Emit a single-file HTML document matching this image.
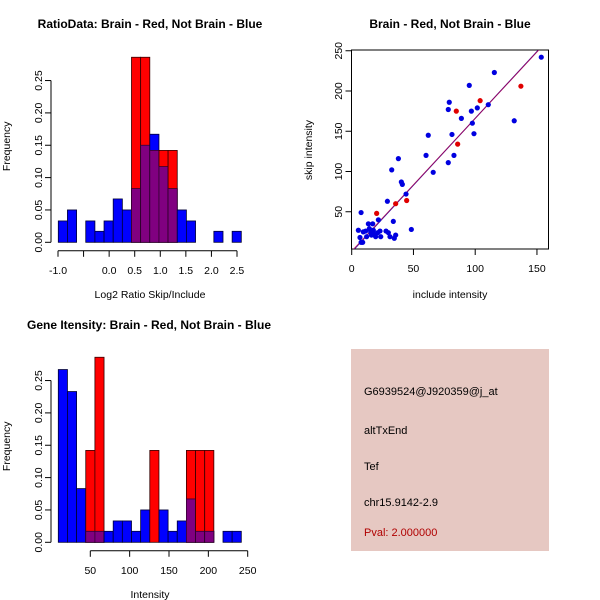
<!DOCTYPE html>
<html><head><meta charset="utf-8"><style>
body{margin:0;background:#fff;}
svg{display:block;font-family:"Liberation Sans",sans-serif;}
</style></head><body>
<svg id="s" width="600" height="600" viewBox="0 0 600 600">
<rect width="600" height="600" fill="#fff"/>
<g>
<rect x="351" y="349" width="198" height="202" fill="#e6c8c2"/>
<text x="364" y="395" font-size="11">G6939524@J920359@j_at</text>
<text x="364" y="434" font-size="11">altTxEnd</text>
<text x="364" y="470" font-size="11">Tef</text>
<text x="364" y="506" font-size="11">chr15.9142-2.9</text>
<text x="364" y="536" font-size="11" fill="#b00000">Pval: 2.000000</text>
</g>
</svg>
<script>
// Histogram 1: ratio
const ratioBlue=[0.033,0.05,0,0.033,0.017,0.033,0.067,0.05,0.083,0.15,0.167,0.117,0.083,0.05,0.033,0,0,0.017,0,0.017];
const ratioRed=[0,0,0,0,0,0,0,0,0.286,0.286,0.142,0.142,0.142,0,0,0,0,0,0,0];
const ratioTicks=[-1.0,-0.5,0.0,0.5,1.0,1.5,2.0,2.5];
const ratioTickLabels=["-1.0","","0.0","0.5","1.0","1.5","2.0","2.5"];
// Histogram 2: intensity
const intBlue=[0.267,0.233,0.083,0.017,0.017,0.017,0.033,0.033,0.017,0.05,0,0.05,0.017,0.033,0.067,0.017,0.017,0,0.017,0.017];
const intRed=[0,0,0,0.142,0.286,0,0,0,0,0,0.142,0,0,0,0.142,0.142,0.142,0,0,0];
const intTicks=[50,100,150,200,250];
const freqTicks=[0,0.05,0.10,0.15,0.20,0.25];
const freqTickLabels=["0.00","0.05","0.10","0.15","0.20","0.25"];
// Scatter
const blueX=[7.6,5.4,6.7,7.6,8.9,9.4,11.3,12.1,13.5,14.3,15.4,17,18,19.4,21,21.6,22.9,23.5,17.5,16,27.8,28.9,29.7,31,32.4,33.7,34.5,35.6,37.8,40.2,41,44,48.3,60.2,62,66,78.2,79,78.2,81.2,82.8,88.8,95.2,96.9,97.7,99,101.7,110.6,115.5,131.6,153.5];
const blueY=[49,27,18,12,12,25,26,19,35,29,25,35,22,19,24,40,26,19,27,21,26,63,24,19,102,38,17,21,116,87,84,72,28,120,145,99,177,186,111,146,120,166,207,175,160,147,179,183,223,163,242];
const redX=[20.2,35.6,44.5,84.7,85.8,104,137];
const redY=[48,60,64,175,134,188,206];
const fitBlue=[0,1.66];   // intercept, slope
const fitRed=[1,1.65];
const scXTicks=[0,50,100,150];
const scYTicks=[50,100,150,200,250];

const S=document.getElementById('s');
const NS='http://www.w3.org/2000/svg';
function mk(tag,attrs,parent){const e=document.createElementNS(NS,tag);for(const k in attrs)e.setAttribute(k,attrs[k]);(parent||S).appendChild(e);return e;}
function txt(x,y,s,opt,parent){const e=mk('text',Object.assign({x:x,y:y,'font-size':10.5,'text-anchor':'middle'},opt||{}),parent);e.textContent=s;return e;}

function hist(g,blue,red,y0,ticks,tickLabels,tx){
  const left=58.3,right=241.3,n=blue.length,bw=(right-left)/n;
  const base=y0, ys=v=>base-v*647;
  for(let i=0;i<n;i++){
    const x=left+i*bw;
    if(blue[i]>0){const r=mk('rect',{x:x,y:ys(blue[i]),width:bw,height:base-ys(blue[i]),fill:'#0000ff',stroke:'#000033','stroke-width':0.8},g);
      }
    if(red[i]>0){const r=mk('rect',{x:x,y:ys(red[i]),width:bw,height:base-ys(red[i]),fill:'#ff0000',stroke:'#330000','stroke-width':0.8},g);
      }
    const m=Math.min(blue[i],red[i]);
    if(m>0){const r=mk('rect',{x:x,y:ys(m),width:bw,height:base-ys(m),fill:'#800080',stroke:'#330033','stroke-width':0.8},g);
      }
  }
  const ya=mk('g',{},g);
  mk('line',{x1:51,x2:51,y1:ys(0),y2:ys(0.25),stroke:'#000'},ya);
  freqTicks.forEach((v,i)=>{mk('line',{x1:45,x2:51,y1:ys(v),y2:ys(v),stroke:'#000'},ya);
    txt(38,ys(v)+4,freqTickLabels[i],{transform:`rotate(-90 38 ${ys(v)})`},ya);});
  const xa=mk('g',{},g);
  const ay=base+8.5;
  mk('line',{x1:tx(ticks[0]),x2:tx(ticks[ticks.length-1]),y1:ay,y2:ay,stroke:'#000'},xa);
  ticks.forEach((v,i)=>{mk('line',{x1:tx(v),x2:tx(v),y1:ay,y2:ay+6,stroke:'#000'},xa);
    if(tickLabels[i])txt(tx(v),ay+23,tickLabels[i],{},xa);});
  const fl=txt(10,base-96,'Frequency',{transform:`rotate(-90 10 ${base-96})`},g);
  
}

// Panel 1
const g1=mk('g',{});
let t=txt(150,28,'RatioData: Brain - Red, Not Brain - Blue',{'font-weight':'bold','font-size':12},g1);

hist(g1,ratioBlue,ratioRed,242.3,ratioTicks,ratioTickLabels,v=>58+(v+1)*51.14);
t=txt(150,298,'Log2 Ratio Skip/Include',{},g1);

// Panel 3
const g3=mk('g',{});
t=txt(149,329,'Gene Itensity: Brain - Red, Not Brain - Blue',{'font-weight':'bold','font-size':12},g3);

hist(g3,intBlue,intRed,542.3,intTicks,intTicks.map(String),v=>90.3+(v-50)*0.787);
t=txt(150,598,'Intensity',{},g3);

// Panel 2 scatter
const g2=mk('g',{});
t=txt(450,28,'Brain - Red, Not Brain - Blue',{'font-weight':'bold','font-size':12},g2);

const sx=v=>351.7+v*1.235, sy=v=>252-v*0.805;
const box=mk('rect',{x:351.5,y:50,width:197,height:199,fill:'none',stroke:'#000'},g2);

const cp=mk('clipPath',{id:'cp'},g2);mk('rect',{x:351.5,y:50,width:197,height:199},cp);
const lg=mk('g',{'clip-path':'url(#cp)'},g2);
const l2=mk('line',{x1:sx(0),y1:sy(fitBlue[0]),x2:sx(160),y2:sy(fitBlue[0]+fitBlue[1]*160),stroke:'#2a10b0','stroke-width':1},lg);

const l1=mk('line',{x1:sx(0),y1:sy(fitRed[0]),x2:sx(160),y2:sy(fitRed[0]+fitRed[1]*160),stroke:'#c00040','stroke-width':1,'stroke-opacity':0.7},lg);

blueX.forEach((x,i)=>{const c=mk('circle',{cx:sx(x),cy:sy(blueY[i]),r:2.6,fill:'#0000e0'},g2);
  });
redX.forEach((x,i)=>{const c=mk('circle',{cx:sx(x),cy:sy(redY[i]),r:2.6,fill:'#e00000'},g2);
  });
const sxa=mk('g',{},g2);
scXTicks.forEach(v=>{mk('line',{x1:sx(v),x2:sx(v),y1:249,y2:255,stroke:'#000'},sxa);txt(sx(v),272,String(v),{},sxa);});
const sya=mk('g',{},g2);
scYTicks.forEach(v=>{mk('line',{x1:345.5,x2:351.5,y1:sy(v),y2:sy(v),stroke:'#000'},sya);
  txt(338,sy(v)+4,String(v),{transform:`rotate(-90 338 ${sy(v)})`},sya);});
t=txt(450,298,'include intensity',{},g2);
t=txt(312,150,'skip intensity',{transform:'rotate(-90 312 150)'},g2);
</script>
</body></html>
